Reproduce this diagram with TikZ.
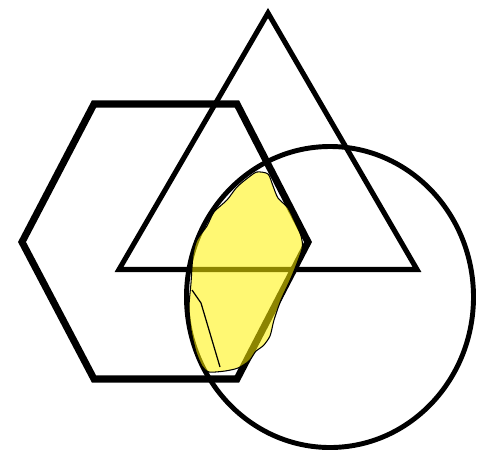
\documentclass[tikz,border=0pt]{standalone}
\usetikzlibrary{calc}
\tikzset{
  hexline/.style={draw=black, line width=4pt, line join=miter},
  triline/.style={draw=black, line width=2.9pt, line join=miter},
  circline/.style={draw=black, line width=2.8pt},
  marker/.style={fill=yellow, fill opacity=0.55, draw=black, line width=0.6pt, draw opacity=1},
  stroke/.style={draw=black, line width=0.7pt}
}
\begin{document}
\begin{tikzpicture}[x=0.02cm, y=-0.02cm]
  \useasboundingbox (0,0) rectangle (487,454);

  % hexagon
  \coordinate (h1) at (22,242);
  \coordinate (h2) at (94,104);
  \coordinate (h3) at (237,104);
  \coordinate (h4) at (308,242);
  \coordinate (h5) at (237,379);
  \coordinate (h6) at (94,379);
  \draw[hexline] (h1) -- (h2) -- (h3) -- (h4) -- (h5) -- (h6) -- cycle;

  % triangle
  \coordinate (apex) at (268,13);
  \coordinate (baseL) at (119,269.5);
  \coordinate (baseR) at (417,269.5);
  \draw[triline] (apex) -- (baseR) -- (baseL) -- cycle;

  % circle
  \coordinate (ctr) at (330,297);
  \draw[circline] (ctr) ellipse [x radius=143.5, y radius=150.5];

  % highlighted overlap
  \draw[marker] plot[smooth cycle, tension=0.45] coordinates {
    (257,172) (268,174) (273,186) (278,198) (288,208) (295,222) (301,236)
    (302,249) (292,276) (281,300) (274,320) (270,336) (263,346) (256,351)
    (249,361) (238,368) (225,371) (209,372) (202,366) (196,352) (191,330)
    (189,307) (191,283) (193,255) (197,240) (207,226) (214,212) (227,200)
    (237,187) (249,177)};
  \coordinate (s1) at (192,290);
  \coordinate (s2) at (201,303);
  \coordinate (s3) at (220,367);
  \draw[stroke] (s1) -- (s2) -- (s3);
\end{tikzpicture}
\end{document}
